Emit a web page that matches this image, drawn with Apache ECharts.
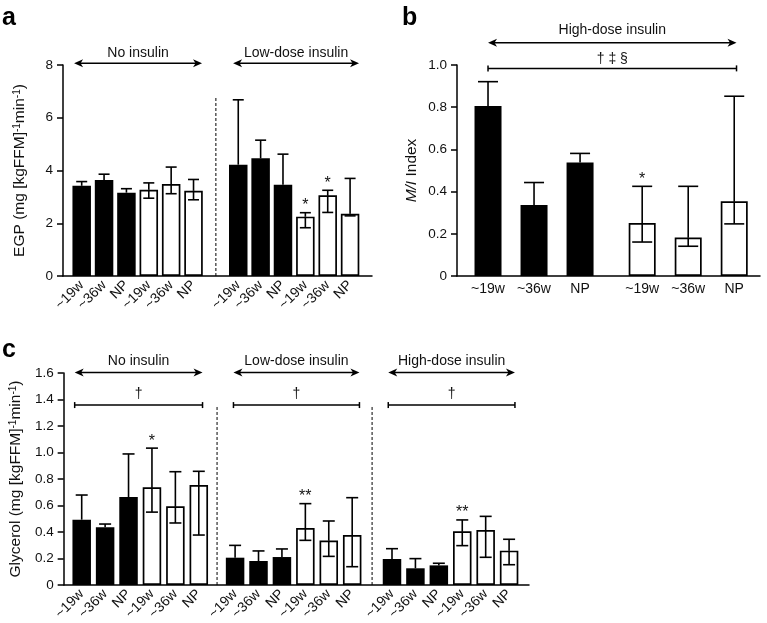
<!DOCTYPE html>
<html><head><meta charset="utf-8">
<script src="https://cdn.jsdelivr.net/npm/echarts@6/dist/echarts.min.js"></script>
<style>html,body{margin:0;padding:0;background:#fff}#c{width:767px;height:623px}</style>
</head><body><div id="c"></div>
<script>
const FONT = '"Liberation Sans", Arial, Helvetica, sans-serif';

// ---------- Panel a : EGP ----------
const labelsA = ['~19w','~36w','NP','~19w','~36w','NP','~19w','~36w','NP','~19w','~36w','NP'];
const posA    = [0,1,2,3,4,5,7,8,9,10,11,12];
const solidA  = [1,1,1,0,0,0,1,1,1,0,0,0];
const meanA   = [3.42,3.64,3.16,3.27,3.49,3.23,4.22,4.46,3.46,2.25,3.06,2.36];
const upperA  = [3.58,3.86,3.31,3.53,4.13,3.66,6.68,5.15,4.62,2.40,3.25,3.70];
const lowerA  = [null,null,null,2.95,3.12,2.89,null,null,null,1.83,2.41,2.28];
const sigA    = ['','','','','','','','','','*','*',''];
const groupNamesA = ['No insulin','Low-dose insulin'];
const groupSpanA  = [[-0.34,5.38],[6.77,12.4]];
const dividerA    = [6];
const dividerTopA = 6.78;

// ---------- Panel b : M/I index ----------
const labelsB = ['~19w','~36w','NP','~19w','~36w','NP'];
const posB    = [0,1,2,3.35,4.35,5.35];
const solidB  = [1,1,1,0,0,0];
const meanB   = [0.806,0.336,0.538,0.251,0.182,0.354];
const upperB  = [0.921,0.443,0.581,0.425,0.425,0.852];
const lowerB  = [null,null,null,0.161,0.141,0.247];
const sigB    = ['','','','*','',''];
const groupNamesB = ['High-dose insulin'];
const groupSpanB  = [[0,5.4]];
const bracketTextB = '\u2020 \u2021 \u00a7';

// ---------- Panel c : Glycerol ----------
const labelsC = ['~19w','~36w','NP','~19w','~36w','NP','~19w','~36w','NP','~19w','~36w','NP','~19w','~36w','NP','~19w','~36w','NP'];
const posC    = [0,1,2,3,4,5, 6.55,7.55,8.55,9.55,10.55,11.55, 13.25,14.25,15.25,16.25,17.25,18.25];
const solidC  = [1,1,1,0,0,0, 1,1,1,0,0,0, 1,1,1,0,0,0];
const meanC   = [0.493,0.435,0.664,0.737,0.594,0.755, 0.206,0.181,0.211,0.430,0.335,0.377, 0.196,0.126,0.148,0.405,0.415,0.259];
const upperC  = [0.679,0.460,0.989,1.033,0.855,0.858, 0.299,0.257,0.272,0.614,0.483,0.659, 0.274,0.199,0.164,0.491,0.518,0.345];
const lowerC  = [null,null,null,0.550,0.468,0.377, null,null,null,0.337,0.216,0.138, null,null,null,0.297,0.209,0.153];
const sigC    = ['','','','*','','', '','','','**','','', '','','','**','',''];
const groupNamesC = ['No insulin','Low-dose insulin','High-dose insulin'];
const groupSpanC  = [[-0.3,5.16],[6.48,11.86],[13.09,18.5]];
const dividerC    = [5.78,12.4];
const dividerTopC = 1.355;
const bracketTextC = '\u2020';

const chart = echarts.init(document.getElementById('c'), null, {renderer:'canvas'});

function xAxisFor(idx, pos, labels, min, max, rotate){
  return {
    type:'value', gridIndex: idx, min, max,
    axisLine:{show:true, onZero:false, lineStyle:{color:'#000', width:1.5}},
    axisTick:{show:false},
    splitLine:{show:false},
    axisLabel:{
      show:true, customValues: pos, rotate: rotate, margin: rotate ? 7 : 6,
      color:'#111', fontSize:14, fontFamily: FONT,
      formatter: v => { let best=0, d=1e9; pos.forEach((p,i)=>{ if(Math.abs(p-v)<d){d=Math.abs(p-v);best=i;} }); return labels[best]; }
    }
  };
}
function yAxisFor(idx, max, interval, name, nameGap, rich){
  return {
    type:'value', gridIndex: idx, min:0, max, interval,
    axisLine:{show:true, onZero:false, lineStyle:{color:'#000', width:1.5}},
    axisTick:{show:true, inside:false, length:6, lineStyle:{color:'#000', width:1.5}},
    splitLine:{show:false},
    axisLabel:{color:'#111', fontSize:13.5, fontFamily: FONT, margin:10,
      formatter: v => interval >= 1 ? String(v) : (v === 0 ? '0' : v.toFixed(1))},
    name, nameLocation:'middle', nameGap, nameRotate:90,
    nameTextStyle:{color:'#111', fontSize:15.5, fontFamily: FONT, rich}
  };
}
function barSeries(idx, pos, mean, solid, bw){
  return {
    type:'bar', xAxisIndex:idx, yAxisIndex:idx, barWidth:bw, silent:true, z:2,
    data: pos.map((p,i)=>({value:[p, mean[i]],
      itemStyle: solid[i] ? {color:'#000', borderColor:'#000', borderWidth:0}
                          : {color:'#fff', borderColor:'#000', borderWidth:1.7}}))
  };
}
function errSeries(idx, pos, mean, upper, lower, sig, capW){
  return {
    type:'custom', xAxisIndex:idx, yAxisIndex:idx, silent:true, clip:false, z:4,
    data: pos.map((p,i)=>[p, upper[i], i]),
    encode:{x:0, y:1},
    renderItem:(params, api)=>{
      const i = api.value(2), x = api.value(0);
      const top = api.coord([x, upper[i]]);
      const mid = api.coord([x, mean[i]]);
      const h = capW/2;
      const st = {stroke:'#000', lineWidth:1.6, fill:null};
      const ch = [
        {type:'line', shape:{x1:top[0], y1:top[1], x2:mid[0], y2:mid[1]}, style:st},
        {type:'line', shape:{x1:top[0]-h, y1:top[1], x2:top[0]+h, y2:top[1]}, style:st}
      ];
      if (lower[i] != null){
        const lo = api.coord([x, lower[i]]);
        ch.push({type:'line', shape:{x1:mid[0], y1:mid[1], x2:lo[0], y2:lo[1]}, style:st});
        ch.push({type:'line', shape:{x1:lo[0]-h, y1:lo[1], x2:lo[0]+h, y2:lo[1]}, style:st});
      }
      if (sig[i]) ch.push({type:'text', x:top[0], y:top[1]+1,
        style:{text:sig[i], align:'center', verticalAlign:'bottom', fontSize:16, fontFamily:FONT, fill:'#111'}});
      return {type:'group', children:ch};
    }
  };
}

const option = {
  animation:false,
  backgroundColor:'#fff',
  grid:[
    {left:63, top:65, width:309, height:211},
    {left:457, top:65, width:303, height:211},
    {left:63, top:373, width:466, height:212}
  ],
  xAxis:[
    xAxisFor(0, posA, labelsA, -0.836, 12.98, 45),
    xAxisFor(1, posB, labelsB, -0.674, 5.91, 0),
    xAxisFor(2, posC, labelsC, -0.77, 19.1, 45)
  ],
  yAxis:[
    yAxisFor(0, 8, 2, 'EGP (mg [kgFFM]{sup|-1}min{sup|-1})', 35,
      {sup:{fontSize:10, verticalAlign:'top', fontFamily:FONT, color:'#111'}}),
    yAxisFor(1, 1.0, 0.2, '{i|M/I} Index', 37,
      {i:{fontSize:15.5, fontStyle:'italic', fontFamily:FONT, color:'#111'}}),
    yAxisFor(2, 1.6, 0.2, 'Glycerol (mg [kgFFM]{sup|-1}min{sup|-1})', 38,
      {sup:{fontSize:10, verticalAlign:'top', fontFamily:FONT, color:'#111'}})
  ],
  series:[
    barSeries(0, posA, meanA, solidA, 18.5),
    errSeries(0, posA, meanA, upperA, lowerA, sigA, 11),
    barSeries(1, posB, meanB, solidB, 27),
    errSeries(1, posB, meanB, upperB, lowerB, sigB, 20),
    barSeries(2, posC, meanC, solidC, 18.5),
    errSeries(2, posC, meanC, upperC, lowerC, sigC, 12)
  ]
};
chart.setOption(option);

// ---------- annotations in data coordinates ----------
const g = [];
const px = (grid, x, y) => chart.convertToPixel({gridIndex:grid}, [x, y]);
const LS = {stroke:'#000', lineWidth:1.5};
function txt(x, y, text, size, extra){
  g.push({type:'text', x, y, z:10, style:Object.assign({text, align:'center', verticalAlign:'middle',
    fontSize:size, fontFamily:FONT, fill:'#111'}, extra||{})});
}
function arrow(grid, x1, x2, y){
  const a = px(grid, x1, y), b = px(grid, x2, y);
  const L = 9, H = 4;
  g.push({type:'line', z:10, shape:{x1:a[0]+5, y1:a[1], x2:b[0]-5, y2:b[1]}, style:LS});
  g.push({type:'polygon', z:10, shape:{points:[[a[0],a[1]],[a[0]+L,a[1]-H],[a[0]+L-2.5,a[1]],[a[0]+L,a[1]+H]]}, style:{fill:'#000'}});
  g.push({type:'polygon', z:10, shape:{points:[[b[0],b[1]],[b[0]-L,b[1]-H],[b[0]-L+2.5,b[1]],[b[0]-L,b[1]+H]]}, style:{fill:'#000'}});
}
function bracket(grid, x1, x2, y){
  const a = px(grid, x1, y), b = px(grid, x2, y);
  g.push({type:'line', z:10, shape:{x1:a[0], y1:a[1], x2:b[0], y2:b[1]}, style:LS});
  g.push({type:'line', z:10, shape:{x1:a[0], y1:a[1]-3, x2:a[0], y2:a[1]+3}, style:LS});
  g.push({type:'line', z:10, shape:{x1:b[0], y1:b[1]-3, x2:b[0], y2:b[1]+3}, style:LS});
}
function divider(grid, x, yTop){
  const a = px(grid, x, 0), b = px(grid, x, yTop);
  g.push({type:'line', z:10, shape:{x1:a[0], y1:a[1], x2:b[0], y2:b[1]}, style:{stroke:'#000', lineWidth:1, lineDash:[3,2]}});
}

// panel a
groupSpanA.forEach((s,k)=>{
  arrow(0, s[0], s[1], 8.07);
  const c = px(0, (s[0]+s[1])/2, 8.46);
  txt(c[0], c[1], groupNamesA[k], 14);
});
dividerA.forEach(x=>divider(0, x, dividerTopA));

// panel b
groupSpanB.forEach((s,k)=>{
  arrow(1, s[0], s[1], 1.106);
  const c = px(1, (s[0]+s[1])/2, 1.166);
  txt(c[0], c[1], groupNamesB[k], 14);
  bracket(1, s[0], s[1], 0.984);
  const t = px(1, (s[0]+s[1])/2, 1.03);
  txt(t[0], t[1], bracketTextB, 14);
});

// panel c
groupSpanC.forEach((s,k)=>{
  arrow(2, s[0], s[1], 1.604);
  const c = px(2, (s[0]+s[1])/2, 1.69);
  txt(c[0], c[1], groupNamesC[k], 14);
  bracket(2, s[0], s[1], 1.358);
  const t = px(2, (s[0]+s[1])/2, 1.44);
  txt(t[0], t[1], bracketTextC, 14);
});
dividerC.forEach(x=>divider(2, x, dividerTopC));

// panel letters
g.push({type:'text', x:2, y:6, z:10, style:{text:'a', fontSize:25, fontWeight:'bold', fontFamily:FONT, fill:'#000', verticalAlign:'top'}});
g.push({type:'text', x:402, y:6, z:10, style:{text:'b', fontSize:25, fontWeight:'bold', fontFamily:FONT, fill:'#000', verticalAlign:'top'}});
g.push({type:'text', x:2, y:338, z:10, style:{text:'c', fontSize:25, fontWeight:'bold', fontFamily:FONT, fill:'#000', verticalAlign:'top'}});

chart.setOption({graphic: g});
</script>
</body></html>
